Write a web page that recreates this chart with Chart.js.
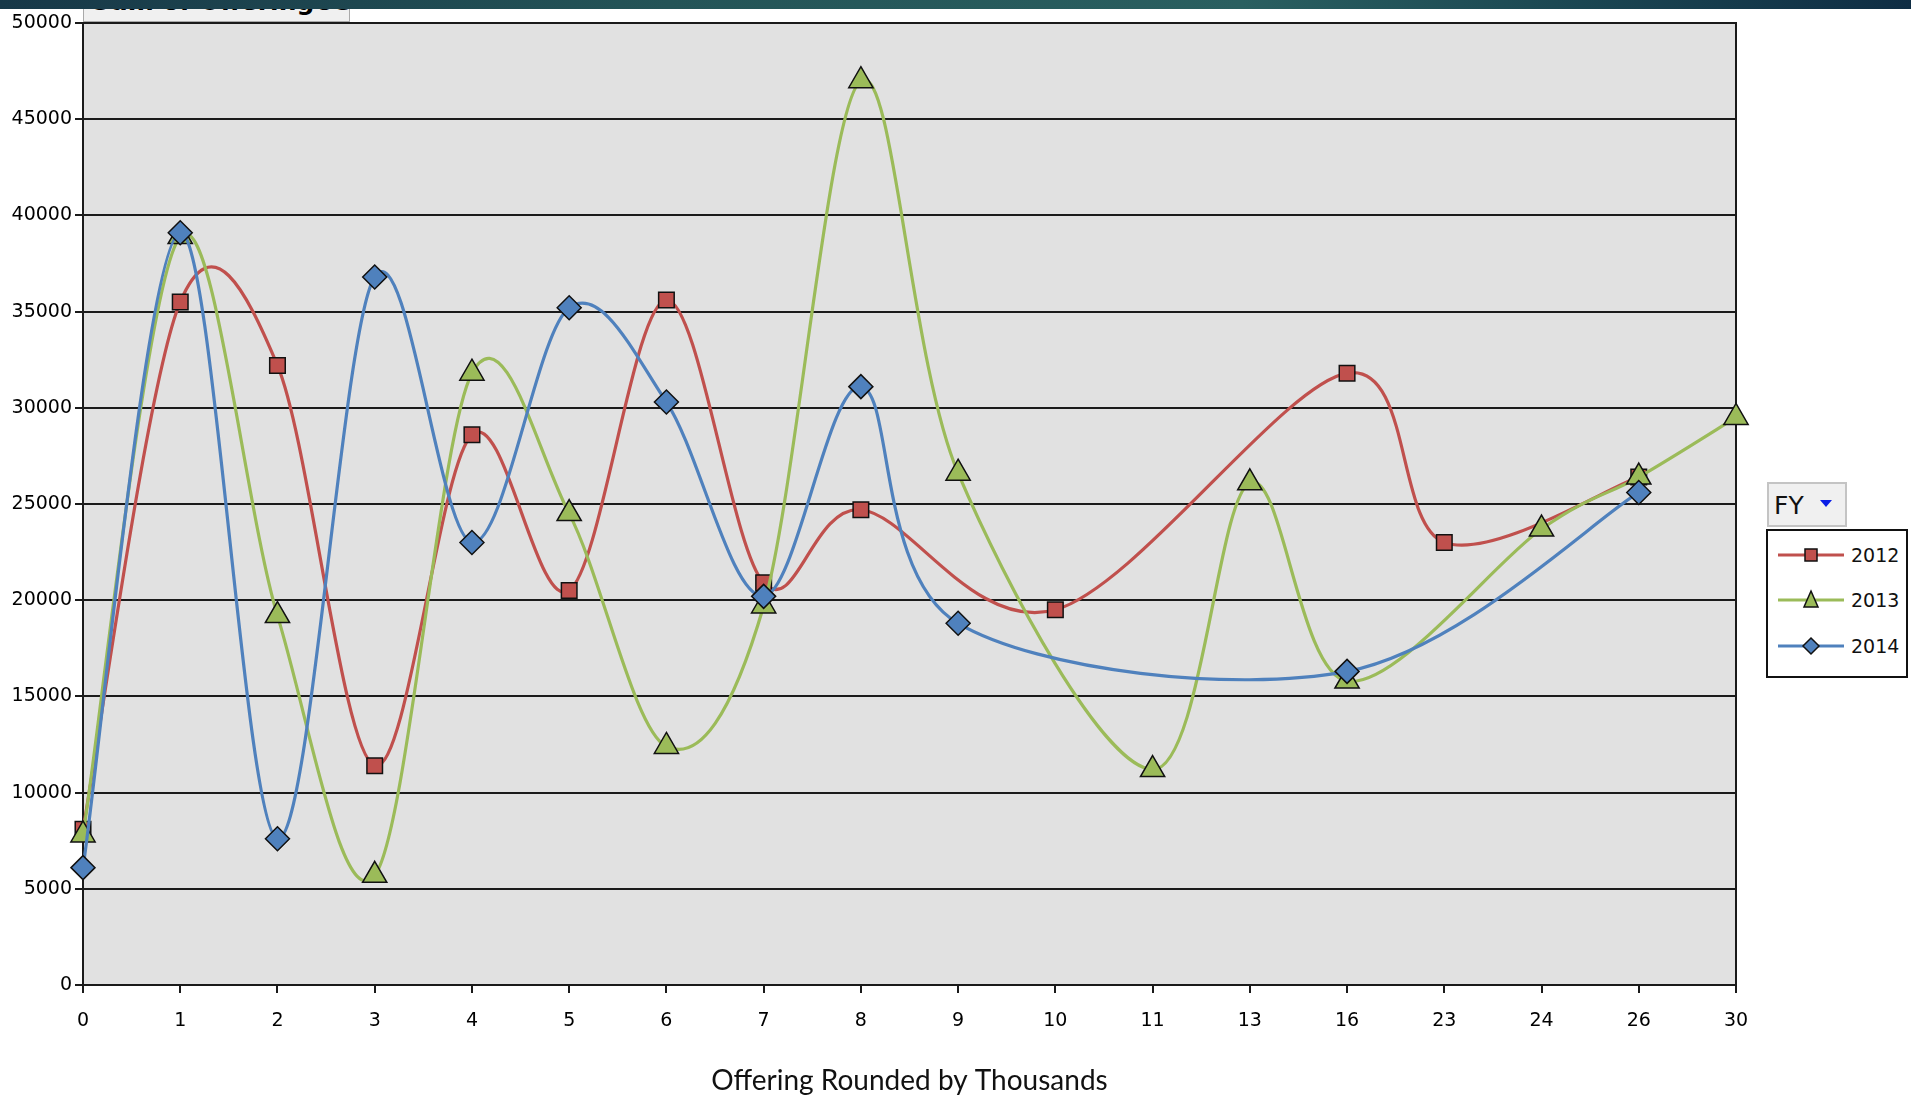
<!DOCTYPE html>
<html>
<head>
<meta charset="utf-8">
<title>Offering Rounded by Thousands</title>
<script src="https://cdn.jsdelivr.net/npm/chart.js@4.4.1/dist/chart.umd.min.js"></script>
<style>
  html, body { margin: 0; padding: 0; background: #fff; }
  #wrap { position: relative; width: 1911px; height: 1102px; overflow: hidden; }
  #chart { position: absolute; left: 0; top: 0; }
  #band {
    position: absolute; left: 0; top: 0; width: 1911px; height: 9px; z-index: 3;
    background: linear-gradient(to right, #173848 0%, #245457 35%, #2a5f60 65%, #1d4a54 80%, #0f2d44 100%);
  }
  #fieldBtn {
    position: absolute; left: 83px; top: -14px; width: 267px; height: 36px; z-index: 2;
    box-sizing: border-box; background: #f0f0f0; border: 1px solid #a9a9a9;
    font: bold 25px "DejaVu Sans", sans-serif; color: #000; padding-left: 8px; line-height: 30px;
    white-space: nowrap; overflow: hidden;
  }
  #fyBtn {
    position: absolute; left: 1767px; top: 482px; width: 80px; height: 45px;
    box-sizing: border-box; background: #f0f0f0; border: 2px solid #c4c4c4;
    font: 25px "DejaVu Sans", sans-serif; color: #111; padding: 7px 0 0 5px;
  }
  #fyBtn .arrow {
    position: absolute; left: 51px; top: 16px; width: 0; height: 0;
    border-left: 6px solid transparent; border-right: 6px solid transparent; border-top: 7px solid #0a1ee6;
  }
  #legend {
    position: absolute; left: 1766px; top: 529px; width: 142px; height: 149px;
    box-sizing: border-box; background: #fff; border: 2px solid #111;
  }
  #legend .item { position: absolute; left: 9px; height: 24px; display: flex; align-items: center; }
  #legend .item span { font: 19px "DejaVu Sans", sans-serif; color: #111; margin-left: 6px; }
</style>
</head>
<body>
<div id="wrap">
  <canvas id="chart" width="1911" height="1102"></canvas>
  <div id="band"></div>
  <div id="fieldBtn">Sum of OfferingUSD</div>
  <div id="fyBtn">FY<span class="arrow"></span></div>
  <div id="legend">
    <div class="item" style="top:12px">
      <svg width="68" height="24"><line x1="1" y1="12" x2="67" y2="12" stroke="#c0504d" stroke-width="3"/><rect x="28" y="6" width="12" height="12" fill="#c0504d" stroke="#111" stroke-width="1.5"/></svg>
      <span>2012</span>
    </div>
    <div class="item" style="top:57px">
      <svg width="68" height="24"><line x1="1" y1="12" x2="67" y2="12" stroke="#9bbb59" stroke-width="3"/><polygon points="34,3 41,19 27,19" fill="#9bbb59" stroke="#111" stroke-width="1.5"/></svg>
      <span>2013</span>
    </div>
    <div class="item" style="top:103px">
      <svg width="68" height="24"><line x1="1" y1="12" x2="67" y2="12" stroke="#4f81bd" stroke-width="3"/><polygon points="34,4 42,12 34,20 26,12" fill="#4f81bd" stroke="#111" stroke-width="1.5"/></svg>
      <span>2014</span>
    </div>
  </div>
</div>
<script>
// offering buckets (thousands)
const categories = ['0', '1', '2', '3', '4', '5', '6', '7', '8', '9', '10', '11', '13', '16', '23', '24', '26', '30'];

const fy2012 = [8100, 35500, 32200, 11400, 28600, 20500, 35600, 20900, 24700, null, 19500, null, null, 31800, 23000, null, 26400, null];
const fy2013 = [7800, 38900, 19200, 5700, 31800, 24500, 12400, 19700, 47000, 26600, null, 11200, 26100, 15800, null, 23700, 26400, 29500];
const fy2014 = [6100, 39100, 7600, 36800, 23000, 35200, 30300, 20200, 31100, 18800, null, null, null, 16300, null, null, 25600, null];

const yMin = 0;
const yMax = 50000;
const yStep = 5000;

const plotBg = {
  id: 'plotBg',
  beforeDraw(chart) {
    const { ctx, chartArea } = chart;
    ctx.save();
    ctx.fillStyle = '#e1e1e1';
    ctx.fillRect(chartArea.left, chartArea.top, chartArea.right - chartArea.left, chartArea.bottom - chartArea.top);
    ctx.restore();
  },
  beforeDatasetsDraw(chart) {
    const { ctx, chartArea } = chart;
    ctx.save();
    ctx.strokeStyle = '#1a1a1a';
    ctx.lineWidth = 2;
    ctx.beginPath();
    ctx.moveTo(chartArea.right, chartArea.top - 1);
    ctx.lineTo(chartArea.right, chartArea.bottom + 1);
    ctx.stroke();
    ctx.restore();
  }
};

// excel-style smoothing: uniform catmull-rom on the pixel points the scales gave
const excelSmooth = {
  id: 'excelSmooth',
  beforeDatasetDraw(chart, args) {
    const meta = args.meta;
    const line = meta.dataset;
    line.updateControlPoints(chart.chartArea, 'x');
    const pts = meta.data.filter((p) => !p.skip);
    for (let i = 0; i < pts.length; i++) {
      const prev = pts[Math.max(i - 1, 0)];
      const next = pts[Math.min(i + 1, pts.length - 1)];
      const p = pts[i];
      const tx = (next.x - prev.x) / 6;
      const ty = (next.y - prev.y) / 6;
      p.cp1x = p.x - tx;
      p.cp1y = p.y - ty;
      p.cp2x = p.x + tx;
      p.cp2y = p.y + ty;
    }
    line._path = undefined;
  }
};

function series(label, data, color, style, radius, order) {
  return {
    label,
    data,
    order,
    borderColor: color,
    backgroundColor: color,
    borderWidth: 3.2,
    pointStyle: style,
    pointRadius: radius,
    pointHoverRadius: radius,
    pointBackgroundColor: color,
    pointBorderColor: '#111',
    pointBorderWidth: 1.5,
    tension: 0.4,
    spanGaps: true,
  };
}

const tickFont = { family: 'DejaVu Sans', size: 19 };

new Chart(document.getElementById('chart'), {
  type: 'line',
  data: {
    labels: categories,
    datasets: [
      series('2012', fy2012, '#c0504d', 'rect', 11, 3),
      series('2013', fy2013, '#9bbb59', 'triangle', 14, 2),
      series('2014', fy2014, '#4f81bd', 'rectRot', 12, 1),
    ],
  },
  options: {
    responsive: false,
    animation: false,
    layout: { padding: { left: 0, top: 23, right: 175, bottom: 0 } },
    plugins: {
      legend: { display: false },
      tooltip: { enabled: false },
    },
    scales: {
      x: {
        offset: false,
        grid: { display: true, drawOnChartArea: false, drawTicks: true, tickLength: 8, color: '#1a1a1a', lineWidth: 2 },
        border: { display: true, color: '#1a1a1a', width: 2 },
        ticks: { font: tickFont, color: '#000', padding: 17, maxRotation: 0, autoSkip: false },
        title: {
          display: true,
          text: 'Offering Rounded by Thousands',
          font: { family: 'Lato', size: 28 },
          color: '#111',
          padding: { top: 0, bottom: 4 },
        },
        afterFit(scale) { scale.height = 117; },
      },
      y: {
        min: yMin,
        max: yMax,
        grid: { color: '#1a1a1a', lineWidth: 2, tickLength: 8 },
        border: { display: true, color: '#1a1a1a', width: 2 },
        ticks: {
          stepSize: yStep,
          font: tickFont,
          color: '#000',
          padding: 3,
          callback: (v) => String(v),
        },
        afterFit(scale) { scale.width = 83; },
      },
    },
  },
  plugins: [plotBg, excelSmooth],
});
</script>
</body>
</html>
